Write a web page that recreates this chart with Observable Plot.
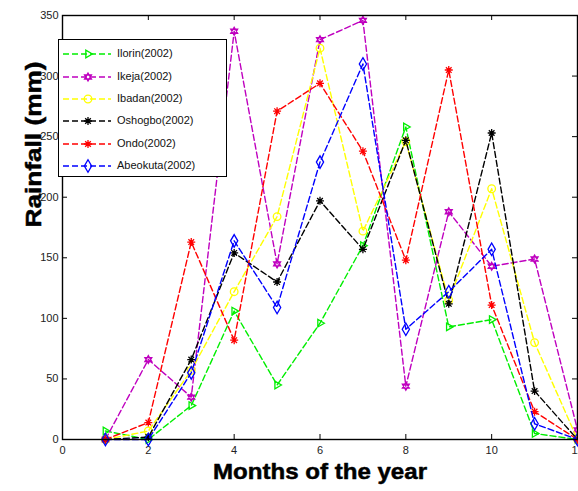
<!DOCTYPE html>
<html><head><meta charset="utf-8">
<script src="https://cdn.jsdelivr.net/npm/d3@7"></script>
<script src="https://cdn.jsdelivr.net/npm/@observablehq/plot@0.6"></script>
<style>
body{margin:0;background:#fff;}
#wrap{position:relative;width:578px;height:491px;font-family:"Liberation Sans",Arial,sans-serif;}
#legend{position:absolute;left:58px;top:39px;width:167px;height:136px;border:1.5px solid #000;background:#fff;}
.row{position:absolute;left:0;height:20px;font-size:11px;color:#111;}
.row svg{position:absolute;left:0;top:0;}
.row span{position:absolute;left:58px;top:3px;white-space:nowrap;}
</style></head><body><div id="wrap"></div>
<script>
const months = [1,2,3,4,5,6,7,8,9,10,11,12];
const xTicks = [0,2,4,6,8,10,12];
const yTicks = [0,50,100,150,200,250,300,350];
const seriesNames = ["Ilorin(2002)","Ikeja(2002)","Ibadan(2002)","Oshogbo(2002)","Ondo(2002)","Abeokuta(2002)"];
const ilorin   = [7, 0, 28, 106, 45, 96, 160, 258, 93, 99, 5, 0];
const ikeja    = [0, 66, 35, 337, 145, 330, 346, 44, 188, 143, 149, 8];
const ibadan   = [0, 7, 57, 122, 184, 323, 172, 246, 115, 207, 80, 0];
const oshogbo  = [0, 2, 66, 154, 130, 197, 157, 247, 112, 253, 40, 0];
const ondo     = [0, 14, 163, 82, 271, 294, 238, 148, 305, 111, 23, 0];
const abeokuta = [0, 0, 55, 164, 109, 229, 310, 91, 122, 157, 13, 0];
const seriesValues = [ilorin, ikeja, ibadan, oshogbo, ondo, abeokuta];
const seriesColors = ["#00ee00", "#bf00bf", "#ffff00", "#000000", "#ff0000", "#0000ff"];

const triRight = {draw(ctx, size){ const R = Math.sqrt(size/Math.PI)*1.15;
  ctx.moveTo(R,0); ctx.lineTo(-R/2, R*0.866); ctx.lineTo(-R/2, -R*0.866); ctx.closePath(); }};
const hexagram = {draw(ctx, size){ const R = Math.sqrt(size/Math.PI)*1.05;
  for (const a0 of [-Math.PI/2, Math.PI/2]) { for (let k=0;k<3;k++){ const a=a0+k*2*Math.PI/3; const x=R*Math.cos(a), y=R*Math.sin(a); k?ctx.lineTo(x,y):ctx.moveTo(x,y);} ctx.closePath(); } }};
const aster = {draw(ctx, size){ const R = Math.sqrt(size/Math.PI)*1.05;
  for (let k=0;k<4;k++){ const a=k*Math.PI/4; ctx.moveTo(R*Math.cos(a), R*Math.sin(a)); ctx.lineTo(-R*Math.cos(a), -R*Math.sin(a)); } }};
const seriesSymbols = [triRight, hexagram, d3.symbolCircle, aster, aster, d3.symbolDiamond];

const marks = [];
seriesValues.forEach((vals, i) => {
  const data = months.map((m, j) => ({month: m, rain: vals[j]}));
  marks.push(Plot.line(data, {x: "month", y: "rain", stroke: seriesColors[i], strokeWidth: 1.4, strokeDasharray: "6,3"}));
  marks.push(Plot.dot(data, {x: "month", y: "rain", stroke: seriesColors[i], fill: "none", symbol: seriesSymbols[i], r: 3.8, strokeWidth: 1.3}));
});

const W = 578, H = 491, mL = 62, mR = 1, mT = 15, mB = 52;
const pw = W - mL - mR, ph = H - mT - mB;
const xTitle = "Months of the year", yTitle = "Rainfall (mm)";

const chart = Plot.plot({
  width: W, height: H,
  marginLeft: mL, marginRight: mR, marginTop: mT, marginBottom: mB,
  style: {fontFamily: "Liberation Sans, Arial, sans-serif", background: "#fff", overflow: "visible"},
  x: {domain: [0, 12]},
  y: {domain: [0, 350]},
  marks: [
    Plot.axisX({ticks: xTicks, tickSize: 0, tickPadding: 7, fontSize: 11, fill: "#222", label: null}),
    Plot.axisY({ticks: yTicks, tickSize: 0, tickPadding: 4, fontSize: 11, fill: "#222", label: null}),
    Plot.tickX(xTicks, {x: d => d, insetTop: ph - 5, stroke: "#000"}),
    Plot.tickX(xTicks, {x: d => d, insetBottom: ph - 5, stroke: "#000"}),
    Plot.tickY(yTicks, {y: d => d, insetRight: pw - 5, stroke: "#000"}),
    Plot.tickY(yTicks, {y: d => d, insetLeft: pw - 5, stroke: "#000"}),
    ...marks,
    Plot.frame({stroke: "#000", strokeWidth: 1.4}),
    Plot.text([xTitle], {frameAnchor: "bottom", dy: 39, fontSize: 22, fontWeight: "bold", fill: "#000", stroke: "#000", strokeWidth: 0.5}),
    Plot.text([yTitle], {frameAnchor: "left", dx: -29, dy: 0, rotate: -90, fontSize: 22, fontWeight: "bold", fill: "#000", stroke: "#000", strokeWidth: 0.5})
  ]
});
chart.querySelectorAll("text").forEach(t => {
  if (t.textContent === xTitle) { t.setAttribute("textLength", 214); t.setAttribute("lengthAdjust", "spacingAndGlyphs"); }
  if (t.textContent === yTitle) { t.setAttribute("textLength", 166); t.setAttribute("lengthAdjust", "spacingAndGlyphs"); }
});
const wrap = document.getElementById("wrap");
wrap.appendChild(chart);

const legend = document.createElement("div");
legend.id = "legend";
const rowCenters = [14, 37, 59, 81, 104, 126];
seriesNames.forEach((name, i) => {
  const row = document.createElement("div");
  row.className = "row";
  row.style.top = (rowCenters[i] - 10) + "px";
  row.style.width = "164px";
  const svg = d3.create("svg").attr("width", 58).attr("height", 20);
  svg.append("line").attr("x1", 4).attr("x2", 52).attr("y1", 10).attr("y2", 10)
    .attr("stroke", seriesColors[i]).attr("stroke-width", 1.4).attr("stroke-dasharray", "6,3");
  svg.append("path").attr("d", d3.symbol(seriesSymbols[i], 3.8*3.8*Math.PI)())
    .attr("transform", "translate(29,10)").attr("fill", "none")
    .attr("stroke", seriesColors[i]).attr("stroke-width", 1.3);
  row.appendChild(svg.node());
  const sp = document.createElement("span");
  sp.textContent = name;
  row.appendChild(sp);
  legend.appendChild(row);
});
wrap.appendChild(legend);
</script></body></html>
